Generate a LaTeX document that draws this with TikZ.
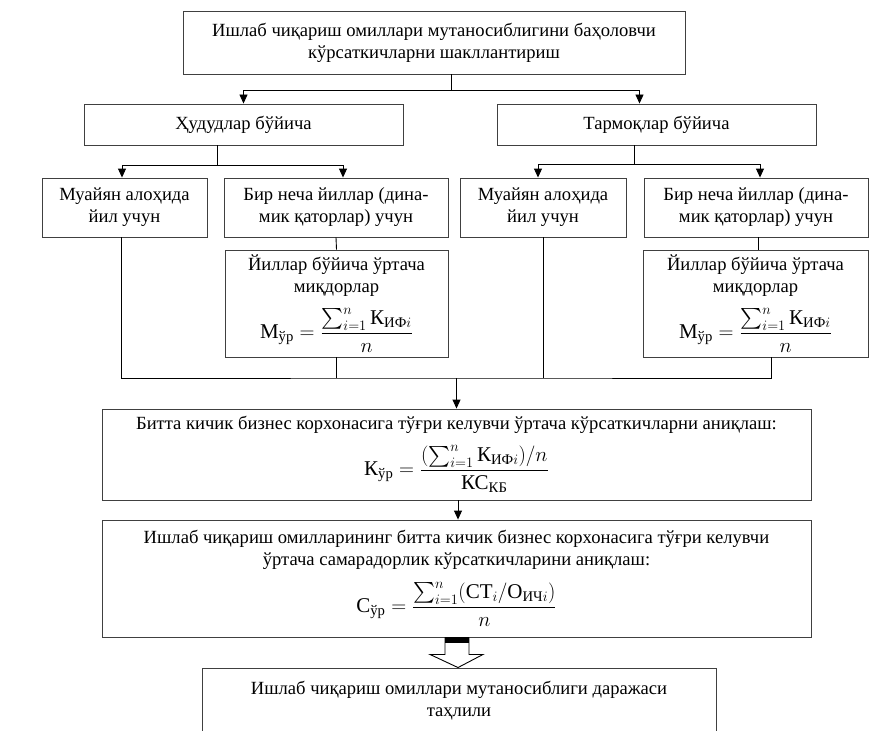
\documentclass[tikz,border=0pt]{standalone}
\usepackage{amsmath}
\usepackage{fontspec}
\setmainfont{Liberation Serif}
\usetikzlibrary{arrows.meta,calc}

\newcommand{\fml}[1]{{\fontsize{21}{24}\selectfont$#1$}}

\tikzset{
  box/.style={draw=black!75, line width=0.9pt, align=center, inner sep=2pt,
    font=\fontsize{18.6}{22}\selectfont},
  link/.style={line width=0.9pt},
  arr/.style={link, -{Triangle[length=9pt,width=8pt]}}
}

\begin{document}
\begin{tikzpicture}[x=1pt, y=-1pt]
\path[use as bounding box, clip] (0,0) rectangle (890,730);

\node[box, minimum width=502pt, minimum height=63pt] (top) at (434,42.5)
  {Ишлаб чиқариш омиллари мутаносиблигини баҳоловчи\\ кўрсаткичларни шакллантириш};

\node[box, minimum width=319pt, minimum height=41pt] (hud) at (243.5,124.5) {Ҳудудлар бўйича};
\node[box, minimum width=319pt, minimum height=41pt] (tar) at (656.5,124.5) {Тармоқлар бўйича};

\node[box, minimum width=165pt, minimum height=59pt] (m1) at (124.5,207.5) {Муайян алоҳида\\ йил учун};
\node[box, minimum width=224pt, minimum height=59pt] (b1) at (336,207.5) {Бир неча йиллар (дина-\\мик қаторлар) учун};
\node[box, minimum width=166pt, minimum height=59pt] (m2) at (543,207.5) {Муайян алоҳида\\ йил учун};
\node[box, minimum width=224pt, minimum height=59pt] (b2) at (756,207.5) {Бир неча йиллар (дина-\\мик қаторлар) учун};

\node[box, minimum width=223pt, minimum height=107pt] (y1) at (336.5,303.5)
  {Йиллар бўйича ўртача\\ миқдорлар\\[11pt]
   \fml{\text{М}_{\text{ўр}}=\dfrac{\sum_{i=1}^{n}\text{К}_{\text{ИФ}i}}{n}}};
\node[box, minimum width=225pt, minimum height=107pt] (y2) at (755.5,303.5)
  {Йиллар бўйича ўртача\\ миқдорлар\\[11pt]
   \fml{\text{М}_{\text{ўр}}=\dfrac{\sum_{i=1}^{n}\text{К}_{\text{ИФ}i}}{n}}};

\node[box, minimum width=709pt, minimum height=91pt] (k) at (456.5,454.5)
  {Битта кичик бизнес корхонасига тўғри келувчи ўртача кўрсаткичларни аниқлаш:\\[11pt]
   \fml{\text{К}_{\text{ўр}}=\dfrac{(\sum_{i=1}^{n}\text{К}_{\text{ИФ}i})/n}{\text{КС}_{\text{КБ}}}}};

\node[box, minimum width=709pt, minimum height=117pt] (c) at (456.5,578.5)
  {Ишлаб чиқариш омилларининг битта кичик бизнес корхонасига тўғри келувчи\\
   ўртача самарадорлик кўрсаткичларини аниқлаш:\\[11pt]
   \fml{\text{С}_{\text{ўр}}=\dfrac{\sum_{i=1}^{n}(\text{СТ}_{i}/\text{О}_{\text{ИЧ}i})}{n}}};

\node[box, minimum width=514pt, minimum height=66pt] (res) at (459,701)
  {Ишлаб чиқариш омиллари мутаносиблиги даражаси\\ таҳлили};

% first branching
\coordinate (j0) at (451,90);
\draw[link] (top.south -| j0) -- (j0);
\draw[arr] (j0) -| (hud.north);
\draw[arr] (j0) -| ([xshift=-17pt]tar.north);

% regions
\coordinate (jh) at (217,165);
\draw[link] ([xshift=-26.5pt]hud.south) -- (jh);
\draw[arr] (jh) -| ([xshift=-2.5pt]m1.north);
\draw[arr] (jh) -| ([xshift=7pt]b1.north);
\draw[link] (b1.south) -- (y1.north);

% branches
\coordinate (jt) at (634,164);
\draw[link] ([xshift=-22.5pt]tar.south) -- (jt);
\draw[arr] (jt) -| ([xshift=-5pt]m2.north);
\draw[arr] (jt) -| ([xshift=4pt]b2.north);
\draw[link] ([xshift=2pt]b2.south) -- ([xshift=2pt]b2.south |- y2.north);

% collecting line
\coordinate (jb) at (456.5,378);
\draw[link] ([xshift=-3.5pt]m1.south) |- (jb) -| ([xshift=15.5pt]y2.south);
\draw[link] (y1.south) -- (y1.south |- jb);
\draw[link] (m2.south) -- (m2.south |- jb);
\draw[arr] (jb) -- (k.north);
\draw[arr] ([xshift=1.5pt]k.south) -- ([xshift=1.5pt]c.north);

% block arrow
\filldraw[link, fill=white] ($(c.south)+(-11.5,0)$) -- ++(0,17) -- ++(-15,0)
  -- ($(res.north)+(-1,0)$) -- ($(c.south)+(26.5,17)$) -- ++(-14,0) -- ++(0,-17) -- cycle;
\fill ($(c.south)+(-11.5,0)$) rectangle ($(c.south)+(12.5,6)$);
\end{tikzpicture}
\end{document}
